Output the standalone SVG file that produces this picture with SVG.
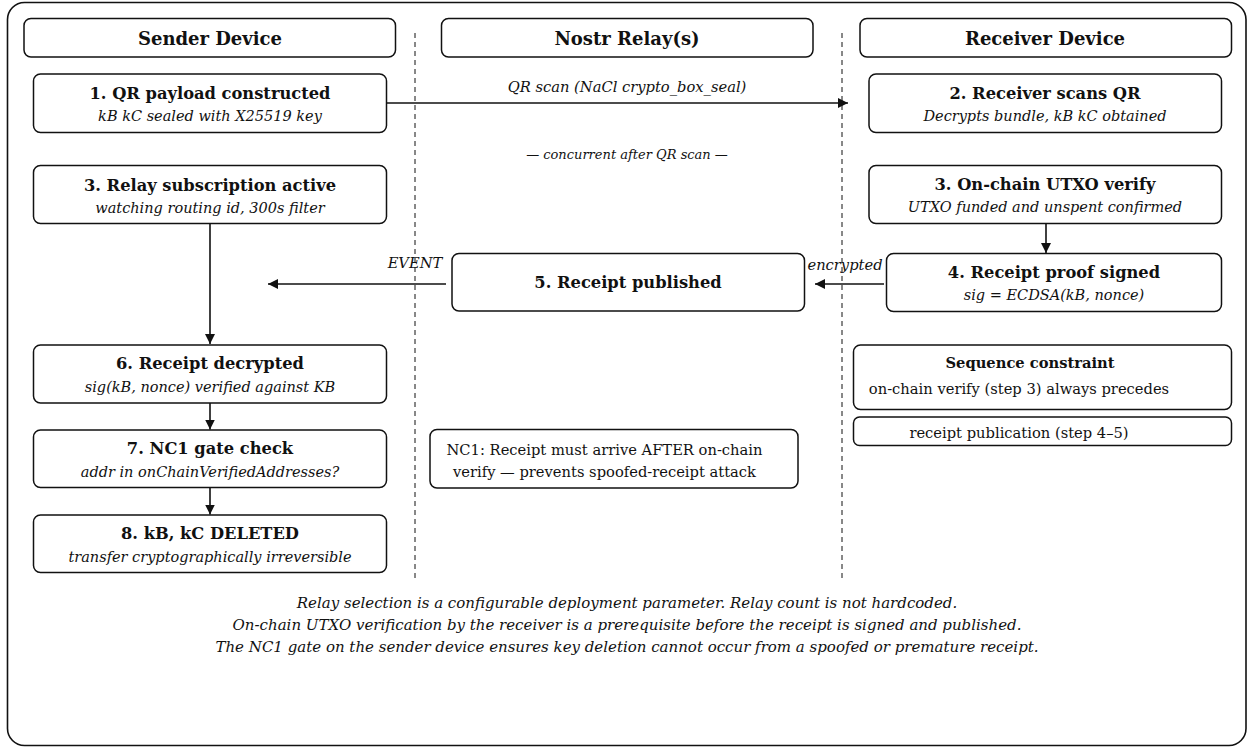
<svg xmlns="http://www.w3.org/2000/svg" width="1249" height="751" viewBox="0 0 1249 751">
  <style>
    .frame { fill: #ffffff; stroke: #111111; stroke-width: 1.6; }
    .box { fill: #ffffff; stroke: #111111; stroke-width: 1.5; }
    .lane { stroke: #111111; stroke-width: 1; stroke-dasharray: 5 4; fill: none; }
    .edge { stroke: #111111; stroke-width: 1.6; fill: none; }
    .head { font-family: "DejaVu Serif", "Liberation Serif", serif; font-weight: bold; font-size: 18px; fill: #111111; text-anchor: middle; }
    .title { font-family: "DejaVu Serif", "Liberation Serif", serif; font-weight: bold; font-size: 16.3px; fill: #111111; text-anchor: middle; }
    .sub { font-family: "DejaVu Serif", "Liberation Serif", serif; font-style: italic; font-size: 14.5px; fill: #111111; text-anchor: middle; }
    .lbl { font-family: "DejaVu Serif", "Liberation Serif", serif; font-style: italic; font-size: 14.7px; fill: #111111; text-anchor: middle; }
    .small { font-family: "DejaVu Serif", "Liberation Serif", serif; font-style: italic; font-size: 13px; fill: #111111; text-anchor: middle; }
    .note { font-family: "DejaVu Serif", "Liberation Serif", serif; font-size: 14.7px; fill: #111111; text-anchor: middle; }
    .notebold { font-family: "DejaVu Serif", "Liberation Serif", serif; font-weight: bold; font-size: 14.7px; fill: #111111; text-anchor: middle; }
    .foot { font-family: "DejaVu Serif", "Liberation Serif", serif; font-style: italic; font-size: 15px; fill: #111111; text-anchor: middle; }
  </style>
  <defs>
    <marker id="arrow" viewBox="0 0 10 10" refX="10" refY="5" markerWidth="10" markerHeight="10" markerUnits="userSpaceOnUse" orient="auto">
      <path d="M0,0 L10,5 L0,10 Z" fill="#111111"/>
    </marker>
  </defs>

  <rect width="1249" height="751" fill="#ffffff"/>
  <rect class="frame" x="7.5" y="2.5" width="1238.5" height="743" rx="17"/>

  <!-- swimlane separators -->
  <g id="lanes">
    <line class="lane" x1="415" y1="33" x2="415" y2="580"/>
    <line class="lane" x1="842" y1="33" x2="842" y2="580"/>
  </g>

  <!-- lane headers -->
  <g id="hdr-sender">
    <rect class="box" x="24" y="18.5" width="371.5" height="38.5" rx="7"/>
    <text class="head" x="210" y="44.5">Sender Device</text>
  </g>
  <g id="hdr-relay">
    <rect class="box" x="441.5" y="18.5" width="371.5" height="38.5" rx="7"/>
    <text class="head" x="627" y="44.5">Nostr Relay(s)</text>
  </g>
  <g id="hdr-receiver">
    <rect class="box" x="860" y="18.5" width="371.5" height="38.5" rx="7"/>
    <text class="head" x="1045" y="44.5">Receiver Device</text>
  </g>

  <!-- sender steps -->
  <g id="s1">
    <rect class="box" x="33.5" y="74" width="353" height="58.5" rx="7"/>
    <text class="title" x="210" y="98.5">1. QR payload constructed</text>
    <text class="sub" x="210" y="121">kB kC sealed with X25519 key</text>
  </g>
  <g id="s3">
    <rect class="box" x="33.5" y="165.5" width="353" height="58" rx="7"/>
    <text class="title" x="210" y="190.5">3. Relay subscription active</text>
    <text class="sub" x="210" y="213">watching routing id, 300s filter</text>
  </g>
  <g id="s6">
    <rect class="box" x="33.5" y="345" width="353" height="58" rx="7"/>
    <text class="title" x="210" y="368.5">6. Receipt decrypted</text>
    <text class="sub" x="210" y="392">sig(kB, nonce) verified against KB</text>
  </g>
  <g id="s7">
    <rect class="box" x="33.5" y="430" width="353" height="57.5" rx="7"/>
    <text class="title" x="210" y="453.5">7. NC1 gate check</text>
    <text class="sub" x="210" y="477">addr in onChainVerifiedAddresses?</text>
  </g>
  <g id="s8">
    <rect class="box" x="33.5" y="515" width="353" height="57.5" rx="7"/>
    <text class="title" x="210" y="538.5">8. kB, kC DELETED</text>
    <text class="sub" x="210" y="562">transfer cryptographically irreversible</text>
  </g>

  <!-- relay -->
  <g id="r5">
    <rect class="box" x="452" y="253.5" width="352.5" height="57.5" rx="7"/>
    <text class="title" x="628" y="288">5. Receipt published</text>
  </g>
  <g id="nc1-note">
    <rect class="box" x="430" y="429.5" width="368" height="58.5" rx="7"/>
    <text class="note" x="604.5" y="455">NC1: Receipt must arrive AFTER on-chain</text>
    <text class="note" x="604.5" y="477">verify — prevents spoofed-receipt attack</text>
  </g>

  <!-- receiver steps -->
  <g id="v2">
    <rect class="box" x="869" y="74" width="352.5" height="58.5" rx="7"/>
    <text class="title" x="1045" y="98.5">2. Receiver scans QR</text>
    <text class="sub" x="1045" y="121">Decrypts bundle, kB kC obtained</text>
  </g>
  <g id="v3">
    <rect class="box" x="869" y="165.5" width="352.5" height="58" rx="7"/>
    <text class="title" x="1045" y="190">3. On-chain UTXO verify</text>
    <text class="sub" x="1045" y="212">UTXO funded and unspent confirmed</text>
  </g>
  <g id="v4">
    <rect class="box" x="886.5" y="253.5" width="335" height="58" rx="7"/>
    <text class="title" x="1054" y="278">4. Receipt proof signed</text>
    <text class="sub" x="1054" y="300">sig = ECDSA(kB, nonce)</text>
  </g>
  <g id="seq-constraint">
    <rect class="box" x="853.5" y="345" width="378" height="64.5" rx="7"/>
    <text class="notebold" x="1030" y="368">Sequence constraint</text>
    <text class="note" x="1019" y="394">on-chain verify (step 3) always precedes</text>
  </g>
  <g id="seq-constraint-cont">
    <rect class="box" x="853.5" y="417" width="378" height="28.5" rx="6"/>
    <text class="note" x="1019" y="438">receipt publication (step 4–5)</text>
  </g>

  <!-- connectors -->
  <g id="connectors">
    <line class="edge" x1="386.5" y1="103" x2="848" y2="103" marker-end="url(#arrow)"/>
    <line class="edge" x1="210" y1="223.5" x2="210" y2="344" marker-end="url(#arrow)"/>
    <line class="edge" x1="446" y1="284" x2="268" y2="284" marker-end="url(#arrow)"/>
    <line class="edge" x1="884" y1="284" x2="815" y2="284" marker-end="url(#arrow)"/>
    <line class="edge" x1="1046" y1="223.5" x2="1046" y2="253" marker-end="url(#arrow)"/>
    <line class="edge" x1="210" y1="403" x2="210" y2="429.5" marker-end="url(#arrow)"/>
    <line class="edge" x1="210" y1="487.5" x2="210" y2="514.5" marker-end="url(#arrow)"/>
    <text class="lbl" x="627" y="92">QR scan (NaCl crypto_box_seal)</text>
    <text class="small" x="627" y="159">— concurrent after QR scan —</text>
    <text class="lbl" x="415" y="268">EVENT</text>
    <text class="lbl" x="845" y="270">encrypted</text>
  </g>

  <!-- footnotes -->
  <g id="footnotes">
    <text class="foot" x="627" y="608">Relay selection is a configurable deployment parameter. Relay count is not hardcoded.</text>
    <text class="foot" x="627" y="630">On-chain UTXO verification by the receiver is a prerequisite before the receipt is signed and published.</text>
    <text class="foot" x="627" y="652">The NC1 gate on the sender device ensures key deletion cannot occur from a spoofed or premature receipt.</text>
  </g>
</svg>
